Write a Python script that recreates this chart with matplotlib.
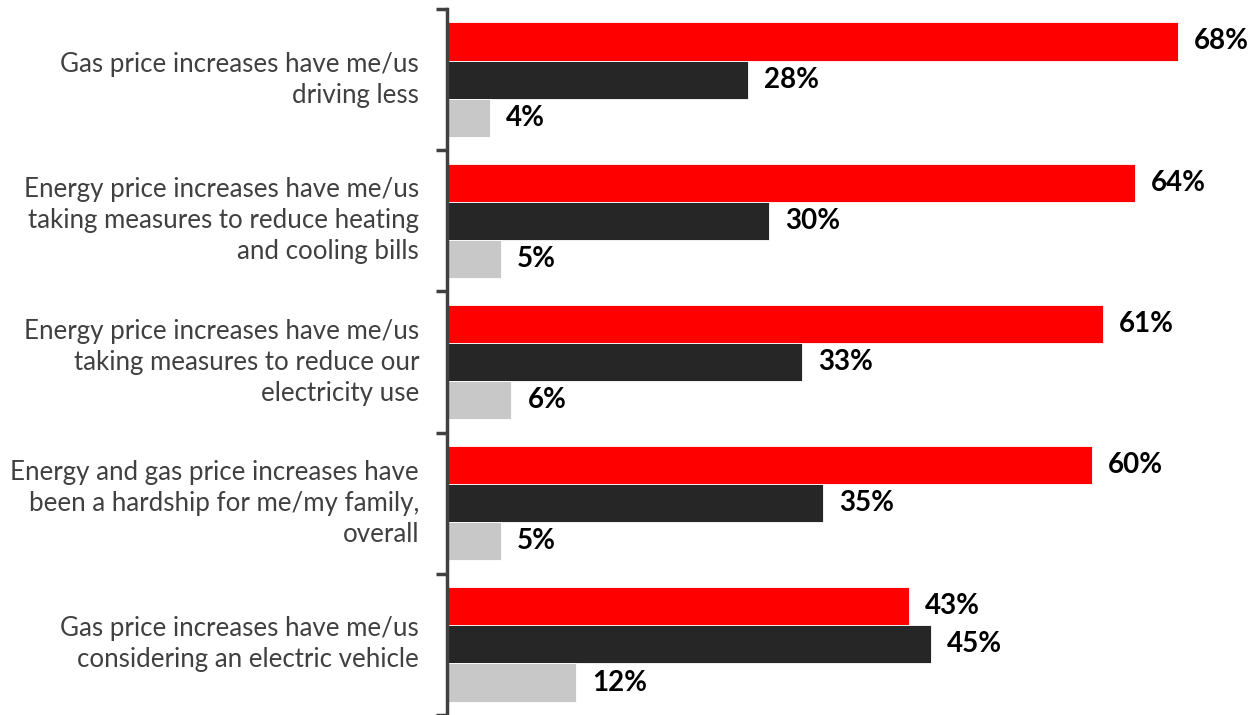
import matplotlib.pyplot as plt
import numpy as np

# Data
categories = [
    "Gas price increases have me/us\ndriving less",
    "Energy price increases have me/us\ntaking measures to reduce heating\nand cooling bills",
    "Energy price increases have me/us\ntaking measures to reduce our\nelectricity use",
    "Energy and gas price increases have\nbeen a hardship for me/my family,\noverall",
    "Gas price increases have me/us\nconsidering an electric vehicle",
]
agree = [68, 64, 61, 60, 43]
disagree = [28, 30, 33, 35, 45]
unsure = [4, 5, 6, 5, 12]

colors = ["#FF0000", "#262626", "#C8C8C8"]

plt.rcParams['font.family'] = ['Lato', 'DejaVu Sans']

fig = plt.figure(figsize=(12.53, 7.15), dpi=100)
ax = fig.add_axes([447 / 1253, 0.0, 1 - 447 / 1253, 1 - 9 / 715])

n = len(categories)
pos = np.arange(n)
h = 0.27
series = [agree, disagree, unsure]
offsets = [-h, 0, h]

for vals, off, col in zip(series, offsets, colors):
    bars = ax.barh(pos + off, vals, height=h, color=col, edgecolor='white', linewidth=0.6)
    for b, v in zip(bars, vals):
        ax.text(b.get_width() + 1.5, b.get_y() + b.get_height() / 2, f"{v}%",
                va='center', ha='left', fontsize=20, fontweight='bold', color='black')

ax.set_xlim(0, 75)
ax.set_ylim(n - 0.5, -0.5)

# category labels
for p, c in zip(pos, categories):
    ax.text(-2.6, p, c, ha='right', va='center', fontsize=18.6, color='#404040',
            linespacing=1.3, transform=ax.transData)

ax.set_yticks(np.arange(-0.5, n, 1.0))
ax.set_yticklabels([])
ax.tick_params(axis='y', direction='out', length=8, width=2.5, color='#404040')
ax.set_xticks([])

for s in ['top', 'right', 'bottom']:
    ax.spines[s].set_visible(False)
ax.spines['left'].set_color('#404040')
ax.spines['left'].set_linewidth(2.5)

fig.savefig('out.png', dpi=100)
